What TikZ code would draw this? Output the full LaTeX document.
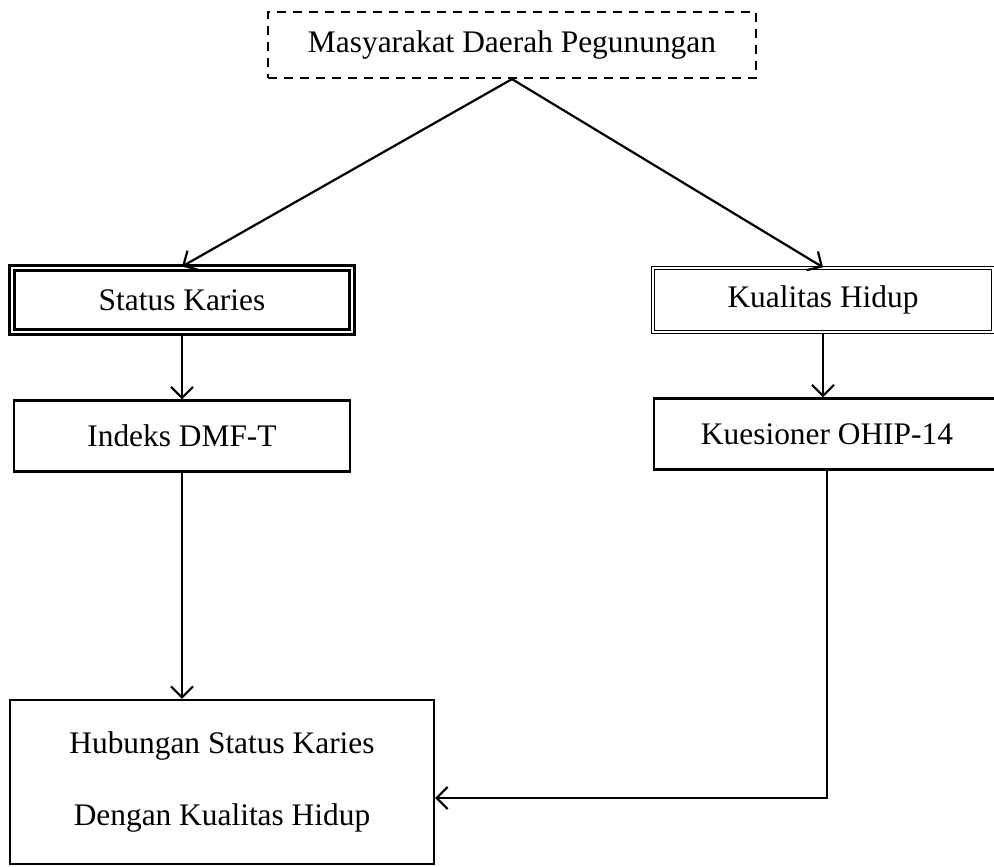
\documentclass[tikz,border=0pt]{standalone}
\usepackage{fontspec}
\setmainfont{Liberation Serif}
\usepackage{tikz}
\usetikzlibrary{arrows.meta,positioning,calc}

\begin{document}
\begin{tikzpicture}[x=0.5pt, y=-0.5pt, line width=1.1pt,
    >={Straight Barb[length=5.5pt,width=11pt]},
    every node/.style={font=\fontsize{15.7}{18}\selectfont, inner sep=0pt},
    topbox/.style={rectangle, draw, dashed, dash pattern=on 4.5pt off 3.5pt, minimum width=244pt, minimum height=33pt},
    mainbox/.style={rectangle, draw, double, double distance=1pt, minimum width=170pt, minimum height=32pt},
    subbox/.style={rectangle, draw, minimum height=35.5pt},
    resbox/.style={rectangle, draw, align=center, minimum width=212pt, minimum height=82pt}
]
    \useasboundingbox (0,0) rectangle (994,866);

    \node[topbox] (top) at (512,45) {Masyarakat Daerah Pegunungan};

    \node[mainbox, line width=1.5pt] (karies) at (182,300) {Status Karies};
    \node[mainbox, line width=0.7pt] (hidup) at (823,300) {Kualitas Hidup};

    \node[subbox, minimum width=168pt] (dmft) at (182,436) {Indeks DMF-T};
    \node[subbox, minimum width=173pt] (ohip) at (827,434) {Kuesioner OHIP-14};

    \node[resbox] (hub) at (222,782) {\raisebox{-9pt}{\begin{tabular}{@{}c@{}}Hubungan Status Karies\\[18pt]Dengan Kualitas Hidup\end{tabular}}};

    \draw[->] (top.south) -- (karies.north);
    \draw[->] (top.south) -- (hidup.north);
    \draw[->] (karies.south) -- (dmft.north);
    \draw[->] (hidup.south) -- (hidup.south |- ohip.north);

    % ke kotak hubungan
    \draw[->] (dmft.south) -- (dmft.south |- hub.north);
    \draw[->] (ohip.south) |- ([yshift=-8pt]hub.east);
\end{tikzpicture}
\end{document}
